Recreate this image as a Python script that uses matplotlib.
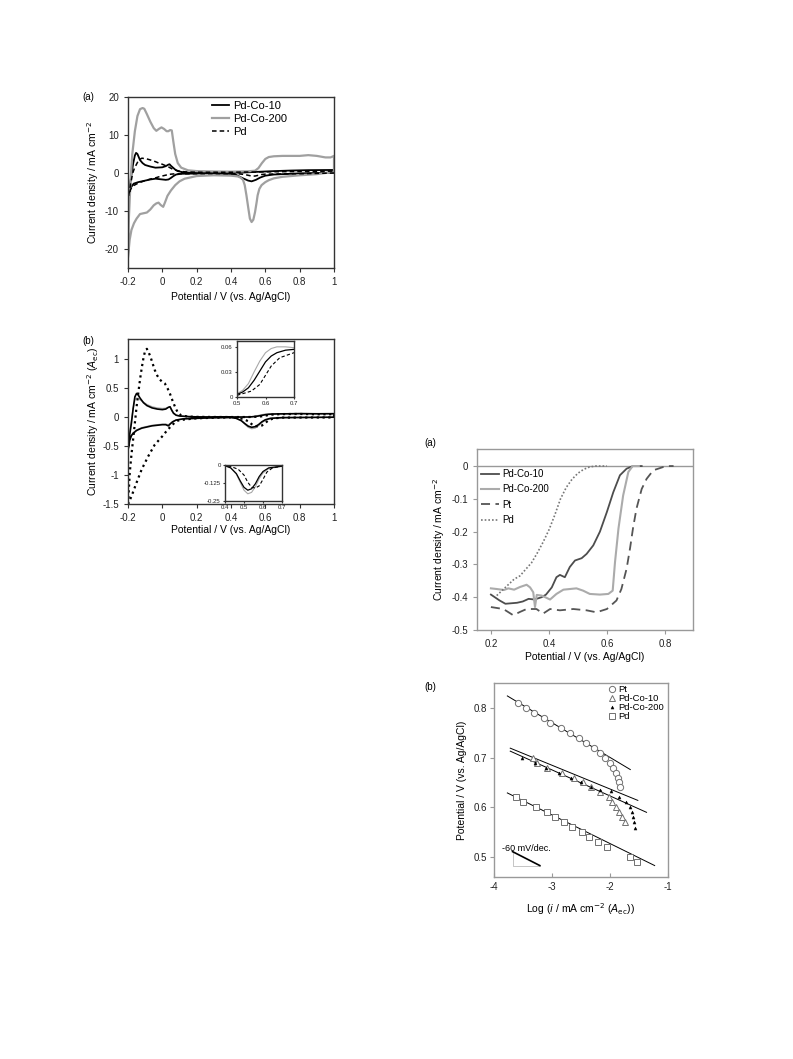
import numpy as np
import matplotlib
matplotlib.use('Agg')
import matplotlib.pyplot as plt
from matplotlib.ticker import FuncFormatter

plt.rcParams['font.family'] = ['Liberation Sans', 'DejaVu Sans']
plt.rcParams['axes.unicode_minus'] = False
plt.rcParams['font.size'] = 7

# ---------------- data: top-left (a) CV, mA cm-2 ----------------
cva_co200_x = [-0.2, -0.195, -0.185, -0.175, -0.16, -0.145, -0.13, -0.115, -0.105, -0.09, -0.07, -0.05, -0.035,
               -0.02, -0.005, 0.01, 0.025, 0.035, 0.045, 0.055, 0.065, 0.075, 0.09, 0.11, 0.15, 0.2, 0.3, 0.4, 0.5,
               0.54, 0.56, 0.58, 0.6, 0.62, 0.65, 0.7, 0.8, 0.85, 0.9, 0.95, 0.98, 1.0,
               1.0, 0.9, 0.8, 0.7, 0.65, 0.62, 0.6, 0.578, 0.565, 0.555, 0.55, 0.54, 0.53, 0.52, 0.51, 0.5,
               0.49, 0.48, 0.47, 0.455, 0.44, 0.4, 0.3, 0.2, 0.13, 0.1, 0.075, 0.05, 0.03, 0.015, 0.005, -0.01,
               -0.022, -0.035, -0.05, -0.07, -0.09, -0.11, -0.13, -0.15, -0.165, -0.18, -0.19, -0.2]
cva_co200_y = [-22, -12, -2, 5, 11, 15, 16.8, 17.1, 16.9, 15.5, 13.5, 11.8, 11.1,
               11.6, 12.0, 11.6, 11.0, 11.0, 11.3, 11.2, 8, 5, 2.6, 1.4, 0.7, 0.5, 0.4, 0.35, 0.45,
               0.6, 1.3, 2.6, 3.7, 4.2, 4.4, 4.5, 4.5, 4.7, 4.5, 4.1, 4.1, 4.5,
               0.3, -0.3, -0.6, -1.0, -1.4, -1.9, -2.4, -3.2, -4.2, -5.9, -7.5, -10.3, -12.3, -12.9, -12.0, -9.0,
               -5.9, -3.2, -1.8, -1.2, -0.9, -0.7, -0.6, -0.8, -1.5, -2.2, -3.2, -4.6, -6.0, -7.8, -8.9, -8.4,
               -7.8, -8.0, -8.5, -9.6, -10.4, -10.6, -10.8, -12.0, -13.2, -15.0, -17.5, -22]

cva_co10_x = [-0.2, -0.19, -0.18, -0.17, -0.16, -0.153, -0.145, -0.13, -0.115, -0.1, -0.07, -0.04, 0.0, 0.02,
              0.035, 0.042, 0.05, 0.06, 0.075, 0.09, 0.12, 0.17, 0.3, 0.46, 0.55, 0.65, 0.75, 0.85, 1.0,
              1.0, 0.8, 0.65, 0.6, 0.57, 0.545, 0.52, 0.5, 0.48, 0.46, 0.43, 0.4, 0.27, 0.11, 0.08, 0.065, 0.05,
              0.036, 0.02, 0.0, -0.04, -0.07, -0.1, -0.14, -0.167, -0.186, -0.2]
cva_co10_y = [-8, -3.5, -0.5, 2.5, 4.6, 5.3, 5.0, 3.4, 2.6, 2.1, 1.7, 1.4, 1.5, 1.8,
              2.2, 2.3, 1.9, 1.5, 0.9, 0.5, 0.2, 0.05, 0.05, 0.1, 0.3, 0.5, 0.65, 0.75, 0.8,
              0.1, -0.1, -0.4, -0.7, -1.2, -1.8, -2.2, -2.0, -1.6, -1.2, -0.5, -0.3, -0.1, -0.2, -0.4, -0.8, -1.3,
              -1.7, -1.8, -1.7, -1.5, -1.7, -2.0, -2.4, -2.8, -4.0, -8]

cva_pd_x = [-0.196, -0.185, -0.173, -0.163, -0.154, -0.138, -0.119, -0.09, -0.06, -0.041, -0.02, 0.0, 0.036,
            0.06, 0.075, 0.1, 0.133, 0.2, 0.4, 0.6, 0.8, 1.0,
            1.0, 0.8, 0.6, 0.578, 0.56, 0.54, 0.52, 0.5, 0.48, 0.45, 0.42, 0.3, 0.15, 0.075, 0.04, 0.017, -0.02,
            -0.041, -0.07, -0.1, -0.138, -0.167, -0.185, -0.196]
cva_pd_y = [-5.9, -3.0, -0.1, 1.2, 2.0, 3.4, 3.9, 3.7, 3.3, 3.0, 2.6, 2.3, 1.6,
            1.0, 0.75, 0.5, 0.3, 0.2, 0.2, 0.3, 0.4, 0.5,
            0.0, -0.2, -0.3, -0.4, -0.6, -0.8, -0.8, -0.6, -0.4, -0.25, -0.2, -0.15, -0.2, -0.2, -0.35, -0.6, -1.0,
            -1.3, -1.6, -2.0, -2.6, -3.3, -4.3, -5.9]

# ---------------- data: middle-left (b) CV normalised to A_ec ----------------
cvb_an_x = [-0.2, -0.19, -0.18, -0.17, -0.16, -0.15, -0.14, -0.13, -0.11, -0.09, -0.06, -0.03, 0.0, 0.02, 0.035,
            0.045, 0.055, 0.065, 0.08, 0.1, 0.15, 0.2, 0.3, 0.4, 0.45, 0.5, 0.52, 0.54, 0.56, 0.58, 0.6, 0.62,
            0.64, 0.67, 0.7, 0.8, 0.9, 1.0]
cvb_co10_an = [-0.57, -0.3, -0.1, 0.15, 0.35, 0.41, 0.38, 0.33, 0.25, 0.2, 0.16, 0.14, 0.13, 0.14, 0.17,
               0.18, 0.12, 0.07, 0.035, 0.02, 0.01, 0.005, 0.003, 0.002, 0.002, 0.003, 0.006, 0.011, 0.02, 0.031,
               0.042, 0.049, 0.053, 0.056, 0.057, 0.06, 0.058, 0.06]
cvb_co200_an = [-0.45, -0.25, -0.05, 0.15, 0.3, 0.33, 0.32, 0.3, 0.26, 0.22, 0.18, 0.16, 0.15, 0.155, 0.17,
                0.17, 0.11, 0.06, 0.03, 0.02, 0.01, 0.005, 0.003, 0.003, 0.003, 0.004, 0.008, 0.016, 0.03, 0.043,
                0.053, 0.058, 0.06, 0.06, 0.059, 0.065, 0.06, 0.06]
cvb_ca_x = [1.0, 0.9, 0.8, 0.7, 0.63, 0.6, 0.58, 0.56, 0.54, 0.52, 0.5, 0.48, 0.46, 0.43, 0.4, 0.3, 0.2, 0.12,
            0.08, 0.06, 0.045, 0.035, 0.02, 0.0, -0.03, -0.06, -0.09, -0.12, -0.15, -0.17, -0.18, -0.19, -0.2]
cvb_co10_ca = [0.0, -0.003, -0.005, -0.008, -0.02, -0.045, -0.08, -0.13, -0.165, -0.175, -0.155, -0.11, -0.06,
               -0.02, -0.005, -0.01, -0.02, -0.03, -0.05, -0.08, -0.12, -0.15, -0.13, -0.13, -0.14, -0.15, -0.17,
               -0.19, -0.23, -0.28, -0.32, -0.4, -0.57]
cvb_co200_ca = [-0.005, -0.006, -0.008, -0.01, -0.025, -0.055, -0.095, -0.15, -0.19, -0.2, -0.175, -0.12, -0.065,
                -0.02, -0.004, -0.01, -0.02, -0.03, -0.05, -0.08, -0.11, -0.13, -0.12, -0.12, -0.13, -0.14, -0.16,
                -0.18, -0.22, -0.27, -0.31, -0.37, -0.5]

cvb_pd_x = [-0.2, -0.195, -0.19, -0.18, -0.17, -0.16, -0.15, -0.14, -0.13, -0.12, -0.11, -0.1, -0.09, -0.08,
            -0.07, -0.06, -0.045, -0.03, -0.015, 0.0, 0.015, 0.03, 0.045, 0.06, 0.075, 0.09, 0.11, 0.15, 0.2,
            0.3, 0.4, 0.5, 0.55, 0.58, 0.6, 0.62, 0.65, 0.7, 0.8, 0.9, 1.0,
            1.0, 0.9, 0.8, 0.7, 0.65, 0.62, 0.6, 0.58, 0.56, 0.54, 0.52, 0.5, 0.47, 0.43, 0.4, 0.3, 0.2, 0.13,
            0.09, 0.07, 0.03, 0.0, -0.045, -0.083, -0.12, -0.15, -0.18, -0.2]
cvb_pd_y = [-1.5, -1.25, -0.97, -0.65, -0.38, -0.1, 0.18, 0.42, 0.65, 0.85, 1.02, 1.15, 1.18, 1.12,
            1.05, 0.96, 0.82, 0.72, 0.65, 0.61, 0.58, 0.5, 0.4, 0.28, 0.17, 0.08, 0.03, 0.01, 0.005,
            0.003, 0.002, 0.002, 0.007, 0.015, 0.026, 0.037, 0.047, 0.053, 0.055, 0.05, 0.05,
            -0.005, -0.006, -0.007, -0.008, -0.02, -0.05, -0.1, -0.145, -0.16, -0.155, -0.12, -0.07, -0.03,
            -0.01, -0.005, -0.01, -0.02, -0.04, -0.06, -0.1, -0.22, -0.33, -0.48, -0.68, -0.9, -1.13, -1.37, -1.5]

# ---------------- data: right (a) ORR polarisation ----------------
lsv_co10_x = [0.2, 0.23, 0.25, 0.29, 0.31, 0.33, 0.35, 0.375, 0.39, 0.41, 0.426, 0.438, 0.455, 0.472, 0.49,
              0.513, 0.53, 0.553, 0.576, 0.6, 0.622, 0.645, 0.668, 0.69, 0.72]
lsv_co10_y = [-0.392, -0.41, -0.42, -0.417, -0.413, -0.405, -0.407, -0.4, -0.392, -0.37, -0.339, -0.332, -0.339,
              -0.308, -0.288, -0.281, -0.268, -0.242, -0.2, -0.14, -0.08, -0.028, -0.008, 0.0, 0.0]
lsv_co200_x = [0.2, 0.22, 0.245, 0.26, 0.28, 0.3, 0.323, 0.335, 0.346, 0.352, 0.358, 0.375, 0.404, 0.426, 0.45,
               0.495, 0.518, 0.541, 0.576, 0.605, 0.62, 0.628, 0.64, 0.656, 0.674, 0.689, 0.71]
lsv_co200_y = [-0.373, -0.375, -0.378, -0.373, -0.377, -0.369, -0.362, -0.37, -0.385, -0.43, -0.393, -0.395,
               -0.407, -0.39, -0.377, -0.373, -0.38, -0.39, -0.392, -0.39, -0.38, -0.293, -0.19, -0.09, -0.018,
               0.0, 0.0]
lsv_pt_x = [0.2, 0.243, 0.277, 0.3, 0.323, 0.357, 0.38, 0.404, 0.438, 0.484, 0.53, 0.564, 0.6, 0.633, 0.65,
            0.668, 0.68, 0.69, 0.702, 0.72, 0.737, 0.76, 0.794, 0.817, 0.83]
lsv_pt_y = [-0.43, -0.436, -0.455, -0.445, -0.436, -0.436, -0.45, -0.436, -0.44, -0.436, -0.44, -0.446, -0.436,
            -0.41, -0.375, -0.313, -0.25, -0.19, -0.13, -0.07, -0.039, -0.013, -0.003, 0.0, 0.0]
lsv_pd_x = [0.22, 0.25, 0.28, 0.3, 0.32, 0.34, 0.36, 0.38, 0.4, 0.42, 0.44, 0.46, 0.48, 0.5, 0.52, 0.54, 0.56,
            0.58, 0.6]
lsv_pd_y = [-0.395, -0.37, -0.345, -0.335, -0.315, -0.295, -0.265, -0.232, -0.195, -0.15, -0.1, -0.065, -0.04,
            -0.022, -0.01, -0.003, 0.0, 0.0, 0.0]

# ---------------- data: right (b) Tafel ----------------
tf_pt_x = [-3.58, -3.44, -3.31, -3.13, -3.04, -2.85, -2.69, -2.53, -2.41, -2.28, -2.17, -2.08, -2.0, -1.95,
           -1.9, -1.86, -1.84, -1.82]
tf_pt_y = [0.81, 0.80, 0.79, 0.78, 0.77, 0.76, 0.75, 0.74, 0.73, 0.72, 0.71, 0.70, 0.69, 0.68, 0.67, 0.66,
           0.65, 0.64]
tf_co10_x = [-3.32, -3.26, -3.08, -2.83, -2.62, -2.47, -2.32, -2.17, -2.02, -1.97, -1.9, -1.85, -1.8, -1.74]
tf_co10_y = [0.70, 0.69, 0.68, 0.67, 0.66, 0.65, 0.64, 0.63, 0.62, 0.61, 0.60, 0.59, 0.58, 0.57]
tf_co200_x = [-3.52, -3.3, -3.1, -2.88, -2.68, -2.5, -2.33, -2.17, -1.99, -1.85, -1.73, -1.65, -1.62, -1.6,
              -1.59, -1.57]
tf_co200_y = [0.70, 0.69, 0.68, 0.67, 0.66, 0.65, 0.64, 0.635, 0.632, 0.62, 0.61, 0.60, 0.59, 0.58, 0.57, 0.559]
tf_pd_x = [-3.62, -3.5, -3.27, -3.08, -2.94, -2.8, -2.65, -2.49, -2.36, -2.2, -2.06, -1.66, -1.53]
tf_pd_y = [0.62, 0.61, 0.60, 0.59, 0.58, 0.57, 0.56, 0.55, 0.54, 0.53, 0.52, 0.50, 0.49]
# fitted Tafel lines (end points)
fit_pt = ([-3.77, -1.65], [0.824, 0.676])
fit_a = ([-3.72, -1.52], [0.719, 0.614])
fit_b = ([-3.72, -1.37], [0.713, 0.59])
fit_pd = ([-3.77, -1.23], [0.629, 0.483])
slope_x = [-3.68, -3.21]
slope_y = [0.511, 0.483]

W, H = 793, 1059
fig = plt.figure(figsize=(W / 100, H / 100), dpi=100)


def box(l, t, r, b):
    return [l / W, 1 - b / H, (r - l) / W, (b - t) / H]


fmt = FuncFormatter(lambda v, p: f'{v:g}')
dark = '#333333'
light = '#999999'


def style(ax, col, fs=7):
    for s in ax.spines.values():
        s.set_color(col)
        s.set_linewidth(1.0)
    ax.tick_params(colors=col, labelcolor='#222222', labelsize=fs, length=3, width=0.8)
    ax.xaxis.set_major_formatter(fmt)
    ax.yaxis.set_major_formatter(fmt)


# ---- top-left (a)
ax1 = fig.add_axes(box(128, 97, 334, 268))
ax1.plot(cva_co10_x, cva_co10_y, color='black', lw=1.3, label='Pd-Co-10')
ax1.plot(cva_co200_x, cva_co200_y, color='#a0a0a0', lw=1.6, label='Pd-Co-200')
ax1.plot(cva_pd_x, cva_pd_y, color='black', lw=1.1, ls=(0, (3, 2)), label='Pd')
ax1.set_xlim(-0.2, 1.0)
ax1.set_ylim(-25, 20)
ax1.set_xticks([-0.2, 0, 0.2, 0.4, 0.6, 0.8, 1.0])
ax1.set_yticks([-20, -10, 0, 10, 20])
style(ax1, dark)
ax1.set_ylabel('Current density / mA cm$^{-2}$', fontsize=7.5)
ax1.set_xlabel('Potential / V (vs. Ag/AgCl)', fontsize=7.5)
ax1.yaxis.set_label_coords(-0.13, 0.5)
ax1.xaxis.set_label_coords(0.5, -0.14)
ax1.legend(loc='upper left', bbox_to_anchor=(0.41, 0.975), frameon=False, fontsize=8,
           handlelength=1.5, handletextpad=0.4, labelspacing=0.25, borderpad=0, borderaxespad=0)
fig.text(88 / W, 1 - 97 / H, '(a)', ha='center', va='center', fontsize=7)

# ---- middle-left (b)
ax2 = fig.add_axes(box(128, 339, 334, 504))
ax2.plot(cvb_an_x + cvb_ca_x, cvb_co200_an + cvb_co200_ca, color='#a8a8a8', lw=0.9)
ax2.plot(cvb_an_x + cvb_ca_x, cvb_co10_an + cvb_co10_ca, color='black', lw=1.2)
ax2.plot(cvb_pd_x, cvb_pd_y, color='black', lw=1.6, ls=(0, (1, 1.6)))
ax2.set_xlim(-0.2, 1.0)
ax2.set_ylim(-1.5, 1.35)
ax2.set_xticks([-0.2, 0, 0.2, 0.4, 0.6, 0.8, 1.0])
ax2.set_yticks([-1.5, -1, -0.5, 0, 0.5, 1])
style(ax2, dark)
ax2.set_ylabel('Current density / mA cm$^{-2}$ ($A_{\\rm ec}$)', fontsize=7.5)
ax2.set_xlabel('Potential / V (vs. Ag/AgCl)', fontsize=7.5)
ax2.yaxis.set_label_coords(-0.13, 0.5)
ax2.xaxis.set_label_coords(0.5, -0.127)
fig.text(88 / W, 1 - 341 / H, '(b)', ha='center', va='center', fontsize=7)

# insets
in1 = fig.add_axes(box(237, 341, 294, 397))
in1.plot(cvb_an_x, cvb_co200_an, color='#a8a8a8', lw=0.8)
in1.plot(cvb_an_x, cvb_co10_an, color='black', lw=0.9)
in1.plot(cvb_pd_x[:41], cvb_pd_y[:41], color='black', lw=0.8, ls=(0, (3, 2)))
in1.set_xlim(0.5, 0.7)
in1.set_ylim(0, 0.067)
in1.set_xticks([0.5, 0.6, 0.7])
in1.set_yticks([0, 0.03, 0.06])
style(in1, dark, fs=4.3)
in1.tick_params(length=1.5, pad=1.5)

in2 = fig.add_axes(box(225, 465, 282, 501))
in2.plot(cvb_ca_x, cvb_co200_ca, color='#a8a8a8', lw=0.8)
in2.plot(cvb_ca_x, cvb_co10_ca, color='black', lw=0.9)
in2.plot(cvb_pd_x[41:], cvb_pd_y[41:], color='black', lw=0.8, ls=(0, (3, 2)))
in2.set_xlim(0.4, 0.7)
in2.set_ylim(-0.25, 0)
in2.set_xticks([0.4, 0.5, 0.6, 0.7])
in2.set_yticks([-0.25, -0.125, 0])
style(in2, dark, fs=4.3)
in2.tick_params(length=1.5, pad=1.5)

# ---- right (a)
ax3 = fig.add_axes(box(477, 449, 693, 630))
ax3.axhline(0, color=light, lw=1.0)
ax3.plot(lsv_co10_x, lsv_co10_y, color='#4d4d4d', lw=1.3, label='Pd-Co-10')
ax3.plot(lsv_co200_x, lsv_co200_y, color='#ababab', lw=1.5, label='Pd-Co-200')
ax3.plot(lsv_pt_x, lsv_pt_y, color='#555555', lw=1.3, ls=(0, (5, 3)), label='Pt')
ax3.plot(lsv_pd_x, lsv_pd_y, color='#777777', lw=1.2, ls=(0, (1, 1.2)), label='Pd')
ax3.set_xlim(0.152, 0.897)
ax3.set_ylim(-0.5, 0.052)
ax3.set_xticks([0.2, 0.4, 0.6, 0.8])
ax3.set_yticks([-0.5, -0.4, -0.3, -0.2, -0.1, 0])
style(ax3, light)
ax3.set_ylabel('Current density / mA cm$^{-2}$', fontsize=7.5)
ax3.set_xlabel('Potential / V (vs. Ag/AgCl)', fontsize=7.5)
ax3.yaxis.set_label_coords(-0.14, 0.5)
ax3.xaxis.set_label_coords(0.5, -0.12)
ax3.legend(loc='upper left', bbox_to_anchor=(0.019, 0.89), frameon=False, fontsize=7,
           handlelength=1.8, handletextpad=0.4, labelspacing=0.55, borderpad=0, borderaxespad=0)
fig.text(430 / W, 1 - 443 / H, '(a)', ha='center', va='center', fontsize=7)

# ---- right (b)
ax4 = fig.add_axes(box(494, 683, 668, 877))
for fx, fy in [fit_pt, fit_a, fit_b, fit_pd]:
    ax4.plot(fx, fy, color='black', lw=0.7)
ax4.plot(tf_pt_x, tf_pt_y, 'o', ms=4.5, mfc='white', mec='#707070', mew=0.7, ls='none', label='Pt')
ax4.plot(tf_co10_x, tf_co10_y, '^', ms=4.5, mfc='white', mec='#707070', mew=0.7, ls='none', label='Pd-Co-10')
ax4.plot(tf_co200_x, tf_co200_y, '^', ms=2.2, mfc='black', mec='black', mew=0.3, ls='none', label='Pd-Co-200')
ax4.plot(tf_pd_x, tf_pd_y, 's', ms=4.5, mfc='white', mec='#707070', mew=0.7, ls='none', label='Pd')
ax4.plot([slope_x[0], slope_x[0], slope_x[1]], [slope_y[0], slope_y[1], slope_y[1]], color='#bbbbbb', lw=0.6)
ax4.plot(slope_x, slope_y, color='black', lw=1.2)
ax4.text(-3.86, 0.518, '-60 mV/dec.', fontsize=6.5, va='center', ha='left')
ax4.set_xlim(-4, -1)
ax4.set_ylim(0.46, 0.85)
ax4.set_xticks([-4, -3, -2, -1])
ax4.set_yticks([0.5, 0.6, 0.7, 0.8])
style(ax4, light)
ax4.tick_params(axis='x', direction='in')
ax4.tick_params(axis='y', pad=2)
ax4.set_ylabel('Potential / V (vs. Ag/AgCl)', fontsize=7.5)
ax4.set_xlabel('Log ($i$ / mA cm$^{-2}$ ($A_{\\rm ec}$))', fontsize=7.5)
ax4.yaxis.set_label_coords(-0.155, 0.5)
ax4.xaxis.set_label_coords(0.5, -0.124)
ax4.legend(loc='upper left', bbox_to_anchor=(0.655, 0.99), frameon=False, fontsize=6.8,
           handlelength=0.8, handletextpad=0.3, labelspacing=0.0, borderpad=0, borderaxespad=0)
fig.text(430 / W, 1 - 687 / H, '(b)', ha='center', va='center', fontsize=7)

fig.savefig('out.png', dpi=100)
